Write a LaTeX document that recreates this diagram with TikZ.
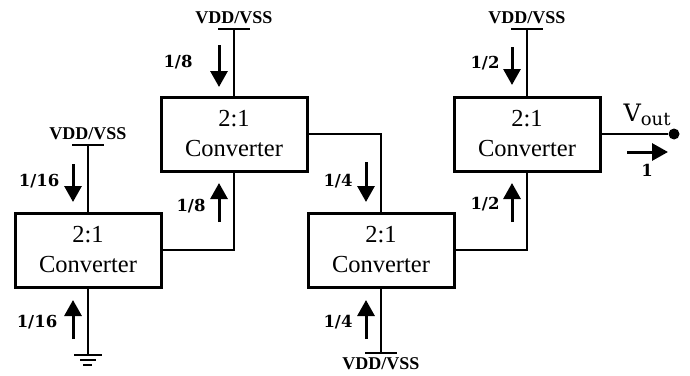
\documentclass[tikz,border=0pt]{standalone}
\usepackage{fontspec}
\usetikzlibrary{arrows.meta}
\setmainfont{Liberation Serif}
\newfontfamily\labelfont{DejaVu Serif}
\begin{document}
\begin{tikzpicture}[x=1pt,y=-1pt,
  conv/.style={draw,line width=3pt,minimum width=146pt,minimum height=74pt,inner sep=0pt,align=center,font=\fontsize{24.5}{30}\selectfont},
  wire/.style={line width=1.9pt},
  bar/.style={line width=2pt},
  flow/.style={line width=3pt,-{Triangle[length=16pt,width=17pt]}},
  rail/.style={font=\fontsize{18}{20}\selectfont\bfseries,inner sep=0pt},
  frac/.style={font=\fontsize{16.5}{18}\selectfont\labelfont\bfseries,inner sep=0pt}]
\useasboundingbox (0,0) rectangle (690,375);
\node[conv] (b1) at (88,250) {2:1\\Converter};
\node[conv] (b2) at (234,134) {2:1\\Converter};
\node[conv] (b3) at (381,250) {2:1\\Converter};
\node[conv] (b4) at (527,134) {2:1\\Converter};
% rails
\coordinate (t1) at (88,145);
\coordinate (t2) at (234,28.5);
\coordinate (t3) at (381,353);
\coordinate (t4) at (527,28.5);
\coordinate (g1) at (88,355);
\draw[wire] (t1) -- (b1.north);
\draw[wire] (t2) -- (b2.north);
\draw[wire] (t3) -- (b3.south);
\draw[wire] (t4) -- (b4.north);
\draw[wire] (g1) -- (b1.south);
\draw[bar] ([xshift=-16pt]t1) -- ([xshift=16pt]t1);
\draw[bar] ([xshift=-16pt]t2) -- ([xshift=16pt]t2);
\draw[bar] ([xshift=-16pt]t3) -- ([xshift=16pt]t3);
\draw[bar] ([xshift=-16pt]t4) -- ([xshift=16pt]t4);
\draw[bar] ([xshift=-14pt]g1) -- ([xshift=14pt]g1);
\draw[bar] (80,360) -- (96,360);
\draw[bar] (83,365) -- (92,365);
\node[rail] (r1) at (88,134) {VDD/VSS};
\node[rail] (r2) at (234,18) {VDD/VSS};
\node[rail] (r3) at (381,363.5) {VDD/VSS};
\node[rail] (r4) at (527,18) {VDD/VSS};
% interconnect
\draw[wire] (b1.east) -| (b2.south);
\draw[wire] (b2.east) -| (b3.north);
\draw[wire] (b3.east) -| (b4.south);
\node[circle,fill,inner sep=0pt,minimum size=11pt] (out) at (674,134) {};
\draw[wire] (b4.east) -- (out);
% flow arrows
\draw[flow] (73,164) -- (73,202);
\draw[flow] (73,339) -- (73,300);
\draw[flow] (219,45) -- (219,87);
\draw[flow] (219,222) -- (219,183);
\draw[flow] (366,162) -- (366,202);
\draw[flow] (366,339) -- (366,300);
\draw[flow] (512,47) -- (512,85);
\draw[flow] (512,222) -- (512,183);
\draw[flow] (627,152) -- (668,152);
% labels
\node[frac] (l1) at (39,181) {1/16};
\node[frac] (l2) at (37,322) {1/16};
\node[frac] (l3) at (178,62) {1/8};
\node[frac] (l4) at (191,206) {1/8};
\node[frac] (l5) at (338,181) {1/4};
\node[frac] (l6) at (338,322) {1/4};
\node[frac] (l7) at (485,63) {1/2};
\node[frac] (l8) at (485,204) {1/2};
\node[frac] (l9) at (647,170) {1};
\node[inner sep=0pt,font=\fontsize{24}{26}\selectfont\labelfont] (vo) at (647,115) {V\raisebox{-0.3ex}{\fontsize{18}{20}\selectfont out}};
\end{tikzpicture}
\end{document}
